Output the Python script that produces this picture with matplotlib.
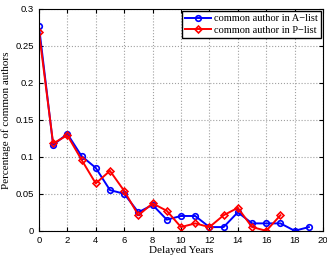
import matplotlib
matplotlib.use("Agg")
import matplotlib.pyplot as plt

years_a = list(range(0, 20))
pct_a = [0.277, 0.116, 0.131, 0.101, 0.085, 0.055, 0.050, 0.025, 0.035, 0.015,
         0.020, 0.020, 0.005, 0.005, 0.025, 0.010, 0.010, 0.010, 0.0, 0.005]
years_p = list(range(0, 18))
pct_p = [0.269, 0.118, 0.129, 0.096, 0.064, 0.081, 0.054, 0.021, 0.037, 0.027,
         0.005, 0.010, 0.005, 0.021, 0.031, 0.005, 0.0, 0.021]

fig = plt.figure(figsize=(3.27, 2.57), dpi=100)
ax = fig.add_axes([0.119, 0.102, 0.869, 0.864])

ax.plot(years_a, pct_a, color="blue", lw=1.4, marker="o", ms=4, mfc="none",
        mew=1.2, label="common author in A\u2212list")
ax.plot(years_p, pct_p, color="red", lw=1.4, marker="D", ms=3.5, mfc="none",
        mew=1.2, label="common author in P\u2212list")

ax.set_xlim(0, 20)
ax.set_ylim(0, 0.3)
ax.set_xticks(range(0, 21, 2))
ax.set_yticks([0, 0.05, 0.1, 0.15, 0.2, 0.25, 0.3])
ax.set_yticklabels(["0", "0.05", "0.1", "0.15", "0.2", "0.25", "0.3"])
ax.tick_params(direction="in", top=True, right=True, labelsize=6.8, length=3)
for lab in ax.get_xticklabels() + ax.get_yticklabels():
    lab.set_family("Liberation Sans")
ax.grid(True, linestyle=":", color="#a0a0a0", lw=0.8)

ax.set_xlabel("Delayed Years", family="Liberation Serif", fontsize=8, labelpad=1)
ax.set_ylabel("Percentage of common authors", family="Liberation Serif", fontsize=8, labelpad=3)

leg = ax.legend(loc="upper right", prop={"family": "Liberation Serif", "size": 7.5},
                fancybox=False, edgecolor="black", framealpha=1,
                borderpad=0.3, handlelength=2.5, labelspacing=0.2,
                borderaxespad=0.2, handletextpad=0.3)
leg.get_frame().set_linewidth(1.0)

for s in ax.spines.values():
    s.set_linewidth(0.8)

fig.savefig("out.png", dpi=100)
